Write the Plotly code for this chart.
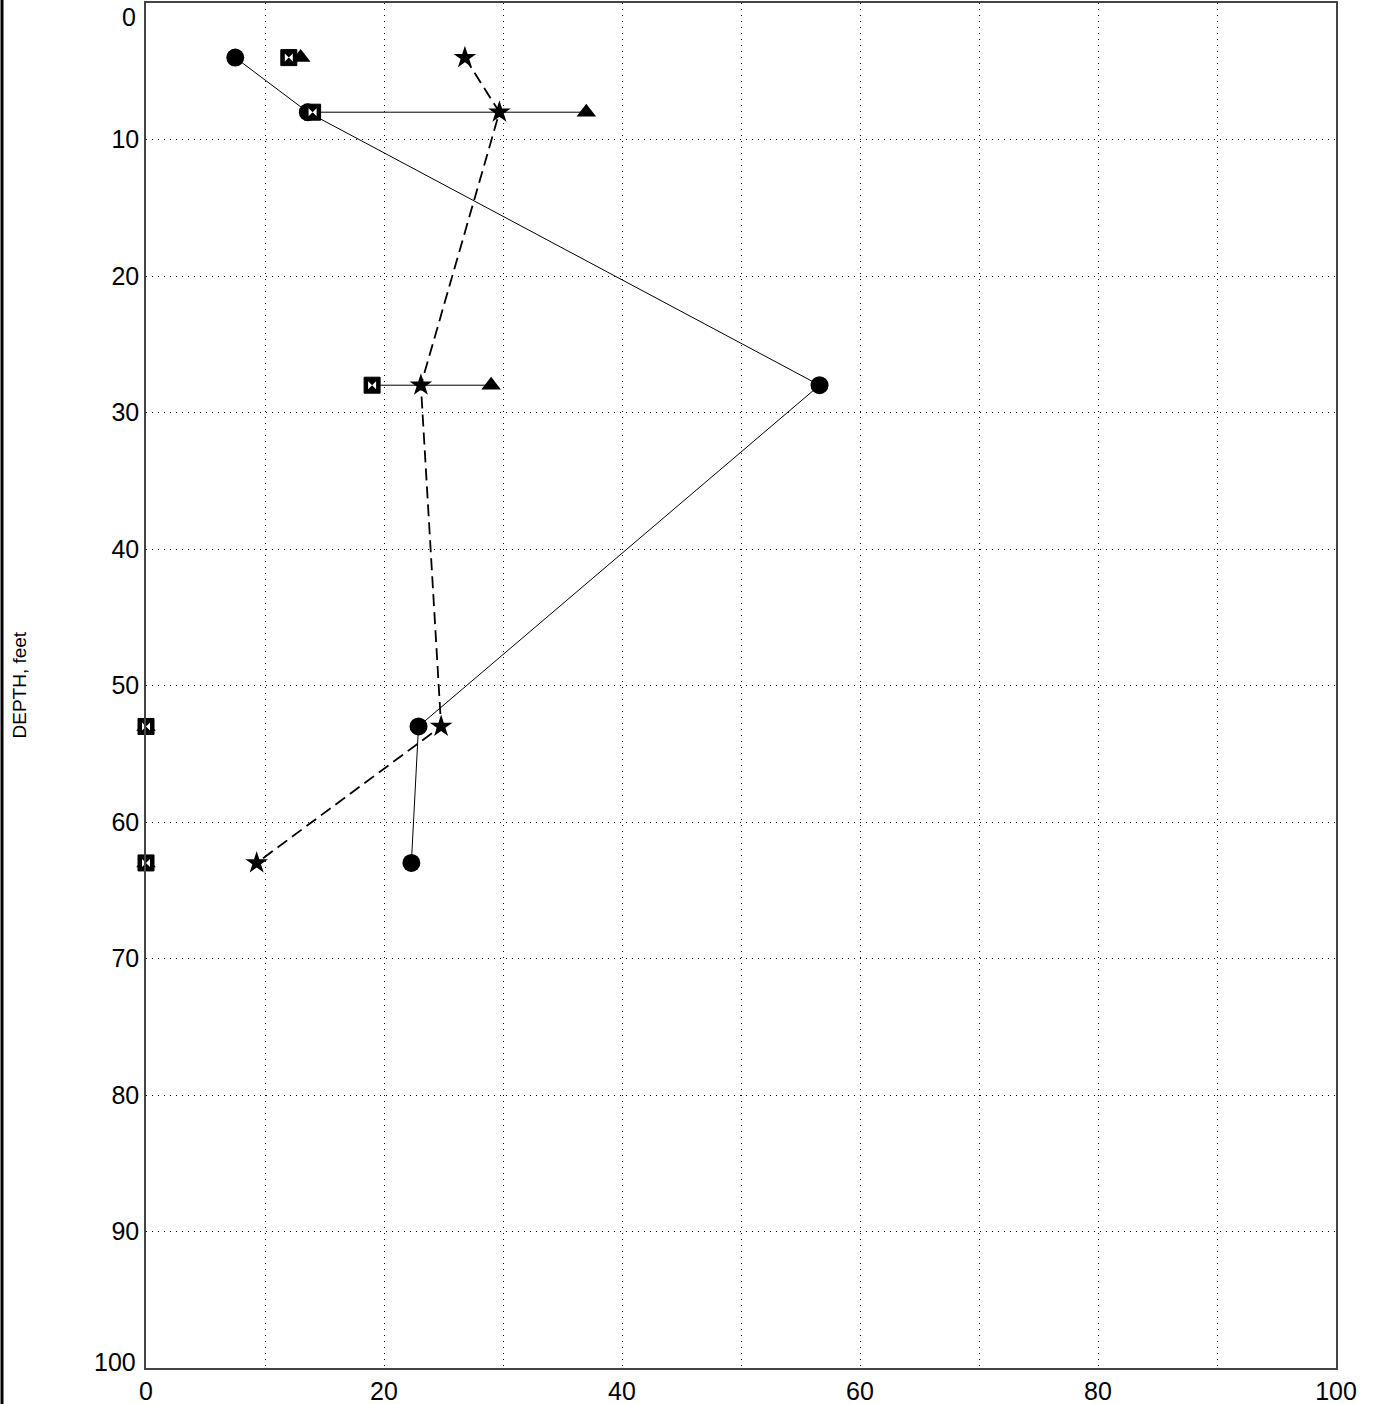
import plotly.graph_objects as go

depth = [4, 8, 28, 53, 63]
water_content = [7.5, 13.6, 56.6, 22.9, 22.3]
plastic_limit = [12.0, 14.0, 19.0, 0.0, 0.0]
liquid_limit = [13.0, 37.0, 29.0, 0.0, 0.0]
star_values = [26.8, 29.7, 23.1, 24.8, 9.3]

x_ticks = [0, 20, 40, 60, 80, 100]
y_ticks = [10, 20, 30, 40, 50, 60, 70, 80, 90]
y_edge_ticks = [0, 100]

FONT = "Liberation Sans, Arial"
W, H = 1374, 1404
ML, MR, MT, MB = 146, 38, 3, 36
PW, PH = W - ML - MR, H - MT - MB

fig = go.Figure()

for d, pl, ll in zip(depth, plastic_limit, liquid_limit):
    fig.add_trace(go.Scatter(x=[pl, ll], y=[d, d], mode="lines",
                             line=dict(color="black", width=1), showlegend=False,
                             hoverinfo="skip", cliponaxis=False))

fig.add_trace(go.Scatter(x=water_content, y=depth, mode="lines+markers",
                         line=dict(color="black", width=1),
                         marker=dict(symbol="circle", size=18, color="black"),
                         showlegend=False, cliponaxis=False))

fig.add_trace(go.Scatter(x=star_values, y=depth, mode="lines+markers",
                         line=dict(color="black", width=1.8, dash="12px,6px"),
                         marker=dict(symbol="star", size=17, color="black"),
                         showlegend=False, cliponaxis=False))

fig.add_trace(go.Scatter(x=liquid_limit, y=depth, mode="markers",
                         marker=dict(symbol="triangle-up", size=17, color="black"),
                         showlegend=False, cliponaxis=False))

fig.add_trace(go.Scatter(x=plastic_limit, y=depth, mode="markers",
                         marker=dict(symbol="square", size=16, color="black",
                                     line=dict(color="black", width=1)),
                         showlegend=False, cliponaxis=False))
fig.add_trace(go.Scatter(x=plastic_limit, y=depth, mode="markers",
                         marker=dict(symbol="bowtie", size=8, color="white",
                                     line=dict(width=0)),
                         showlegend=False, cliponaxis=False))

dot = "1px,5px"

fig.update_xaxes(range=[0, 100], tickvals=x_ticks, ticks="", zeroline=False,
                 showline=True, linecolor="#444", linewidth=1.5, mirror=True,
                 showgrid=True, gridcolor="black", gridwidth=1, griddash=dot,
                 minor=dict(dtick=10, showgrid=True, gridcolor="black", griddash=dot, gridwidth=1),
                 tickfont=dict(family=FONT, size=25, color="black"))
fig.update_yaxes(range=[100, 0], tickvals=y_ticks, ticks="", zeroline=False,
                 showline=True, linecolor="#444", linewidth=1.5, mirror=True,
                 showgrid=True, gridcolor="black", gridwidth=1, griddash=dot,
                 tickfont=dict(family=FONT, size=25, color="black"))

for v, shift in zip(y_edge_ticks, [-14, 6]):
    fig.add_annotation(x=0, y=v, xref="paper", yref="y", text=str(v),
                       xanchor="right", yanchor="middle", xshift=-8, yshift=shift,
                       showarrow=False, font=dict(family=FONT, size=25, color="black"))

fig.add_annotation(x=(19 - ML) / PW, y=0.5, xref="paper", yref="paper", text="DEPTH, feet",
                   textangle=-90, showarrow=False, xanchor="center", yanchor="middle",
                   font=dict(family=FONT, size=19, color="black"))

fig.add_shape(type="line", xref="paper", yref="paper", x0=(2 - ML) / PW, x1=(2 - ML) / PW,
              y0=-MB / PH, y1=1 + MT / PH, line=dict(color="black", width=3))

fig.update_layout(width=W, height=H, plot_bgcolor="white", paper_bgcolor="white",
                  margin=dict(l=ML, r=MR, t=MT, b=MB, autoexpand=False),
                  font=dict(family=FONT, color="black"))

fig.write_html("out.html", config={"displayModeBar": False},
               post_script="document.body.style.margin='0';document.body.style.overflow='hidden';")
